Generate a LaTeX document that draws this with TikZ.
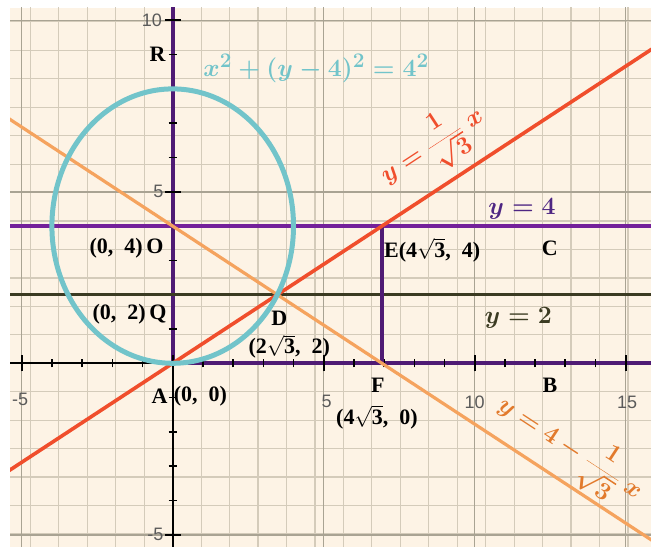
\documentclass[tikz,border=0pt]{standalone}
\usepackage{fontspec}
\setmainfont{Liberation Serif}
\newfontfamily\ticksans{Liberation Sans}
\usetikzlibrary{positioning}

\definecolor{paper}{HTML}{FDF3E5}
\definecolor{gridminor}{HTML}{D4CBBA}
\definecolor{gridmajor}{HTML}{A9A393}
\definecolor{circlecol}{HTML}{72C4CA}
\definecolor{redline}{HTML}{F04E2C}
\definecolor{orangeline}{HTML}{F5A35E}
\definecolor{orangetext}{HTML}{E27A2C}
\definecolor{purpleline}{HTML}{74209A}
\definecolor{purpleaxis}{HTML}{4F1B74}
\definecolor{purpletext}{HTML}{4E2683}
\definecolor{oliveline}{HTML}{3B3B22}
\definecolor{ticklabel}{HTML}{5A5A5A}

\tikzset{
  ptlabel/.style={font=\fontsize{22}{24}\selectfont\bfseries, inner sep=0pt},
  eqlabel/.style={font=\fontsize{30}{33}\selectfont\boldmath, inner sep=0pt},
  ticklab/.style={font=\ticksans\fontsize{18}{20}\selectfont, text=ticklabel, inner sep=0pt},
}

\begin{document}
\begin{tikzpicture}[x=30.2pt, y=34.3pt]
  % white frame, paper with grid
  \useasboundingbox (-5.719,-5.356) rectangle (15.838,10.592);
  \fill[white] (-5.719,-5.356) rectangle (15.838,10.592);
  \coordinate (ll) at (-5.387,-5.356);
  \coordinate (ur) at (15.838,10.359);
  \fill[paper] (ll) rectangle (ur);

  % points of the figure
  \coordinate (A) at (0,0);
  \coordinate (Q) at (0,2);
  \coordinate (O) at (0,4);
  \coordinate (R) at (0,9);
  \coordinate (D) at ({2*sqrt(3)},2);
  \coordinate (E) at ({4*sqrt(3)},4);
  \coordinate (F) at ({4*sqrt(3)},0);
  % ends of the long lines
  \coordinate (xl) at (-6,0);   \coordinate (xr) at (16,0);
  \coordinate (yb) at (0,-6);   \coordinate (yt) at (0,11);
  \coordinate (ql) at (-6,2);   \coordinate (qr) at (16,2);
  \coordinate (ol) at (-6,4);   \coordinate (or) at (16,4);
  \coordinate (red0) at (-6,{-6/sqrt(3)});
  \coordinate (red1) at (16,{16/sqrt(3)});
  \coordinate (org0) at (-6,{4+6/sqrt(3)});
  \coordinate (org1) at (16,{4-16/sqrt(3)});

  \begin{scope}
    \clip (ll) rectangle (ur);
    \draw[gridminor, line width=1.2pt] (-6,-6) grid (16,11);
    \draw[gridmajor, line width=1.5pt, step=5] (-10,-10) grid (20,15);

    % axes, purple on the positive half
    \draw[black, line width=1.8pt] (xl) -- (xr);
    \draw[black, line width=1.8pt] (yb) -- (yt);
    \draw[purpleaxis, line width=3.6pt] (A) -- (xr);
    \draw[purpleaxis, line width=3.6pt] (A) -- (yt);
    \foreach \i in {-5,...,15}
      \draw[black, line width=1.6pt] (\i,0) ++(0,-4pt) -- ++(0,8pt);
    \foreach \i in {-5,0,5,10,15}
      \draw[black, line width=1.8pt] (\i,0) ++(0,-8pt) -- ++(0,16pt);
    \foreach \j in {-5,...,10}
      \draw[black, line width=1.6pt] (0,\j) ++(-4pt,0) -- ++(8pt,0);
    \foreach \j in {-5,5,10}
      \draw[black, line width=1.8pt] (0,\j) ++(-8pt,0) -- ++(16pt,0);

    % y = 2, y = 4 and the segment EF
    \draw[oliveline, line width=3.6pt] (ql) -- (qr);
    \draw[purpleline, line width=3.6pt] (ol) -- (or);
    \draw[purpleaxis, line width=3.6pt] (F) -- (E);

    % the two slanted lines
    \draw[orangeline, line width=3.2pt] (org0) -- (org1);
    \draw[redline, line width=3.6pt] (red0) -- (red1);

    % circle about O, radius 4
    \draw[circlecol, line width=5pt] (O) ellipse [x radius=4, y radius=4];
  \end{scope}

  % axis numbers
  \node[ticklab] (xm5) at (-5.05,-1.05) {-5};
  \node[ticklab] (x5)  at (5.1,-1.1) {5};
  \node[ticklab] (x10) at (10,-1.15) {10};
  \node[ticklab] (x15) at (15.05,-1.15) {15};
  \node[ticklab, anchor=east] (y10) at (-0.35,10) {10};
  \node[ticklab, anchor=east] (y5)  at (-0.3,5) {5};
  \node[ticklab, anchor=east] (ym5) at (-0.3,-5) {-5};

  % point labels
  \node[ptlabel, anchor=east] (Rlab) at ([xshift=-7pt]R) {R};
  \node[ptlabel, anchor=east] (Olab) at ([xshift=-9pt, yshift=-22pt]O) {(0,\ \ 4)\,O};
  \node[ptlabel, anchor=east] (Qlab) at ([xshift=-6pt, yshift=-20pt]Q) {(0,\ \ 2)\,Q};
  \node[ptlabel] (Dlab) at ([xshift=2pt, yshift=-24pt]D) {D};
  \node[ptlabel] (Dxy) at ([xshift=12pt, yshift=-52pt]D) {(2$\sqrt{\mathbf{3}}$,\ \ 2)};
  \node[ptlabel, anchor=east] (Alab) at ([xshift=-5pt, yshift=-33pt]A) {A};
  \node[ptlabel, anchor=west] (Axy) at ([xshift=1pt, yshift=-33pt]A) {(0,\ \ 0)};
  \node[ptlabel, anchor=west] (Elab) at ([xshift=2pt, yshift=-24pt]E) {E(4$\sqrt{\mathbf{3}}$,\ \ 4)};
  \node[ptlabel] (Clab) at (12.49,3.36) {C};
  \node[ptlabel] (Flab) at ([xshift=-4pt, yshift=-22pt]F) {F};
  \node[ptlabel] (Fxy) at ([xshift=-5pt, yshift=-54pt]F) {(4$\sqrt{\mathbf{3}}$,\ \ 0)};
  \node[ptlabel] (Blab) at (12.49,-0.63) {B};

  % equations
  \node[eqlabel, text=circlecol] (eqcirc) at (4.75,8.6) {$x^2+(y-4)^2=4^2$};
  \node[eqlabel, text=purpletext] (eqfour) at (11.57,4.49) {$y=4$};
  \node[eqlabel, text=oliveline] (eqtwo) at (11.44,1.32) {$y=2$};
  \node[eqlabel, text=redline, rotate=33.25] (eqred) at (8.6,6.32)
    {$\displaystyle y=\frac{1}{\sqrt{3}}\ x$};
  \node[eqlabel, text=orangetext, rotate=-33.25] (eqorange) at (13.15,-2.5)
    {$\displaystyle y=4-\frac{1}{\sqrt{3}}\ x$};
\end{tikzpicture}
\end{document}
